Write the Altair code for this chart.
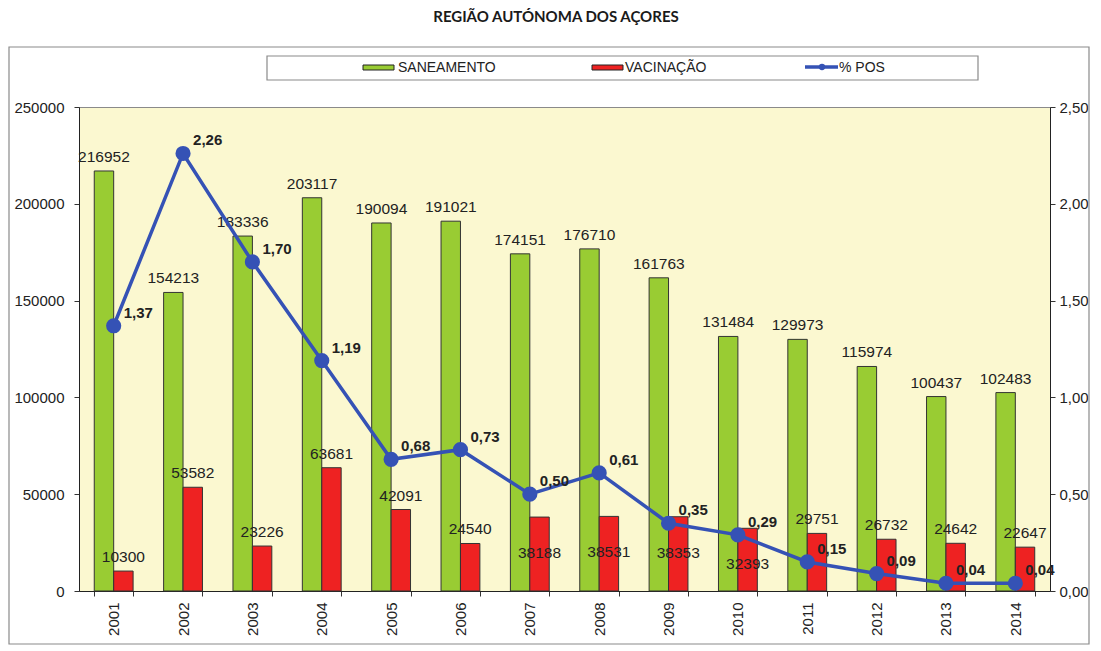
import altair as alt
import pandas as pd

years = ["2001", "2002", "2003", "2004", "2005", "2006", "2007", "2008", "2009", "2010", "2011", "2012", "2013", "2014"]
saneamento = [216952, 154213, 183336, 203117, 190094, 191021, 174151, 176710, 161763, 131484, 129973, 115974, 100437, 102483]
vacinacao = [10300, 53582, 23226, 63681, 42091, 24540, 38188, 38531, 38353, 32393, 29751, 26732, 24642, 22647]
pos = [1.37, 2.26, 1.70, 1.19, 0.68, 0.73, 0.50, 0.61, 0.35, 0.29, 0.15, 0.09, 0.04, 0.04]
series = ["SANEAMENTO", "VACINAÇÃO"]
series_colors = ["#99CC33", "#EE2222"]
line_color = "#3552B5"
title_text = "REGIÃO AUTÓNOMA DOS AÇORES"

LEFT_MAX, RIGHT_MAX = 250000, 2.5

bars_df = pd.DataFrame(
    {"year": years * 2,
     "series": [series[0]] * len(years) + [series[1]] * len(years),
     "value": saneamento + vacinacao,
     "pos": pos + pos}
)
pos_df = pd.DataFrame({"year": years, "pos": pos})
pos_df["label"] = [f"{v:.2f}".replace(".", ",") for v in pos]

W, H = 971, 484
FONT = "Liberation Sans"

x_enc = alt.X("year:N", sort=years,
              scale=alt.Scale(paddingInner=0.44, paddingOuter=0.22),
              axis=alt.Axis(title=None, labelAngle=270, labelFontSize=15, labelColor="#222",
                            labelFont=FONT, labelPadding=6, tickBand="extent", tickSize=5,
                            tickColor="#333", domainColor="#222", labelBaseline="middle",
                            labelAlign="right"))

y_left = alt.Y("value:Q", scale=alt.Scale(domain=[0, LEFT_MAX], nice=False),
               axis=alt.Axis(title=None, values=[0, 50000, 100000, 150000, 200000, 250000],
                             format="d", grid=False, labelFontSize=15, labelFont=FONT,
                             labelColor="#222", tickSize=5, tickColor="#333",
                             domainColor="#222", labelPadding=10))

color_enc = alt.Color("series:N", scale=alt.Scale(domain=series, range=series_colors), legend=None)
xoff = alt.XOffset("series:N", sort=series)

base_bars = alt.Chart(bars_df).transform_calculate(
    # vertical gap (in plot fraction) between the % POS point and the bar top
    gap=f"datum.pos / {RIGHT_MAX} - datum.value / {LEFT_MAX}"
).transform_calculate(
    below=f"datum.series == '{series[1]}' && datum.gap > -0.03 && datum.gap < 0.095"
)
bars = base_bars.mark_bar(stroke="#333", strokeWidth=1).encode(
    x=x_enc, y=y_left, color=color_enc, xOffset=xoff)
lbl_enc = dict(x=alt.X("year:N", sort=years), y=alt.Y("value:Q"), xOffset=xoff,
               text=alt.Text("value:Q", format="d"))
bar_labels_above = base_bars.transform_filter("!datum.below").mark_text(
    dy=-14, fontSize=15.5, font=FONT, color="#222").encode(**lbl_enc)
bar_labels_below = base_bars.transform_filter("datum.below").mark_text(
    dy=36, fontSize=15.5, font=FONT, color="#222").encode(**lbl_enc)

bars_layer = alt.layer(bars, bar_labels_above, bar_labels_below)

y_right = alt.Y("pos:Q", scale=alt.Scale(domain=[0, RIGHT_MAX], nice=False),
                axis=alt.Axis(title=None, orient="right", values=[0, 0.5, 1, 1.5, 2, 2.5],
                              labelExpr="replace(format(datum.value, '.2f'), '.', ',')",
                              grid=False, labelFontSize=15, labelFont=FONT, labelColor="#222",
                              tickSize=5, tickColor="#333", domainColor="#222", labelPadding=4))

base_line = alt.Chart(pos_df)
line = base_line.mark_line(color=line_color, strokeWidth=3.5).encode(
    x=alt.X("year:N", sort=years), y=y_right)
pts = base_line.mark_circle(color=line_color, size=230, opacity=1).encode(
    x=alt.X("year:N", sort=years), y="pos:Q")
pos_labels = base_line.mark_text(align="left", dx=10, dy=-13, fontSize=15, fontWeight="bold",
                                 font=FONT, color="#222").encode(
    x=alt.X("year:N", sort=years), y="pos:Q", text="label:N")
line_layer = alt.layer(line, pts, pos_labels)

# frame, legend and title decorations
deco = alt.Chart(pd.DataFrame({"k": [0]}))
frame = deco.mark_rect(fillOpacity=0, stroke="#8a8a8a", strokeWidth=1.2).encode(
    x=alt.value(-70), x2=alt.value(1010), y=alt.value(-60), y2=alt.value(537))
legend_box = deco.mark_rect(fill="white", stroke="#8a8a8a", strokeWidth=1.2).encode(
    x=alt.value(188), x2=alt.value(899), y=alt.value(-51), y2=alt.value(-27))
sw1 = deco.mark_rect(fill=series_colors[0], stroke="#222", strokeWidth=1).encode(
    x=alt.value(284), x2=alt.value(315), y=alt.value(-42), y2=alt.value(-37))
sw2 = deco.mark_rect(fill=series_colors[1], stroke="#222", strokeWidth=1).encode(
    x=alt.value(513), x2=alt.value(544), y=alt.value(-42), y2=alt.value(-37))
lg_line = deco.mark_rule(color=line_color, strokeWidth=3.5).encode(
    x=alt.value(726), x2=alt.value(759), y=alt.value(-40))
lg_pt = deco.mark_circle(color=line_color, size=40, opacity=1).encode(
    x=alt.value(743), y=alt.value(-40))
t1 = deco.mark_text(text="SANEAMENTO", align="left", baseline="middle", fontSize=14,
                    font=FONT, color="#222").encode(x=alt.value(319), y=alt.value(-39))
t2 = deco.mark_text(text="VACINAÇÃO", align="left", baseline="middle", fontSize=14,
                    font=FONT, color="#222").encode(x=alt.value(546), y=alt.value(-39))
t3 = deco.mark_text(text="% POS", align="left", baseline="middle", fontSize=14,
                    font=FONT, color="#222").encode(x=alt.value(760), y=alt.value(-39))
title = deco.mark_text(text=title_text, align="center", baseline="middle", fontSize=15,
                       fontWeight="bold", font="Lato", color="#1a1a1a").encode(
    x=alt.value(477), y=alt.value(-90))
deco_layer = alt.layer(frame, legend_box, sw1, sw2, lg_line, lg_pt, t1, t2, t3, title)

chart = alt.layer(bars_layer, line_layer, deco_layer).resolve_scale(y="independent").properties(
    width=W, height=H,
    autosize=alt.AutoSizeParams(type="none"),
    padding={"left": 71, "top": 99, "right": 42, "bottom": 56},
    background="white",
).configure_view(fill="#FBF8D0", stroke="#8a8a8a", strokeWidth=1)

chart.save("out.html", embed_options={"renderer": "svg", "actions": False})
